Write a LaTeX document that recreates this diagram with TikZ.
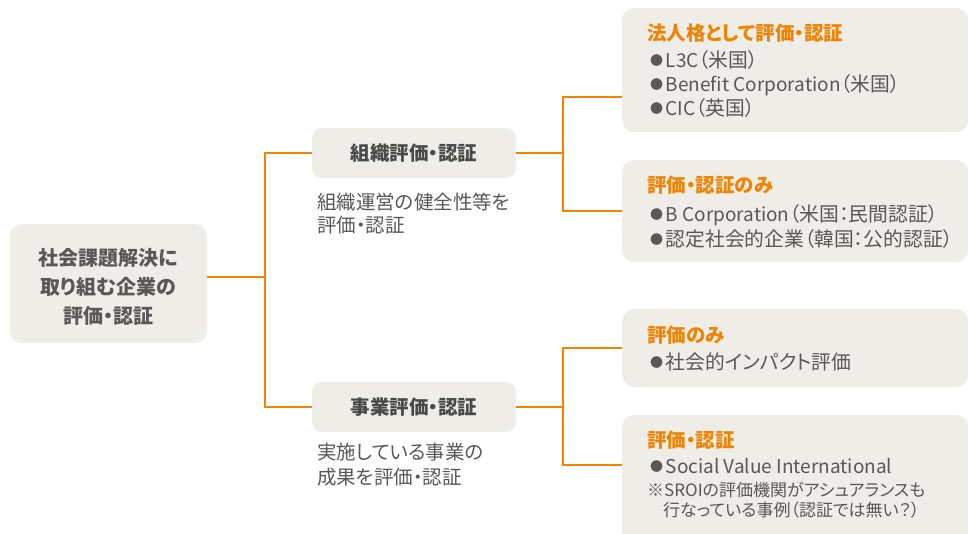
\documentclass[tikz,border=0pt]{standalone}
\usepackage{fontspec}
\setmainfont{Noto Sans CJK JP}[RawFeature=+palt]
\newcommand\lat{\fontsize{19}{19}\selectfont}
\definecolor{org}{HTML}{F08300}
\definecolor{boxbg}{HTML}{EFEDE8}
\definecolor{txt}{HTML}{595757}
\definecolor{txtd}{HTML}{4A4A4A}
\newcommand\bul{\raisebox{2pt}{\fontsize{13}{13}\selectfont ●}\hspace{2.5pt}}
\begin{document}
\begin{tikzpicture}[x=1pt,y=-1pt]
\tikzset{
 bx/.style={fill=boxbg, rounded corners=12pt, inner sep=0pt},
 conn/.style={draw=org, line width=2.2pt},
 tx/.style={inner sep=0pt, anchor=base west, text=txt, font=\fontsize{19.8}{19.8}\selectfont},
 hd/.style={inner sep=0pt, anchor=base west, text=org, font=\bfseries\fontsize{19.5}{19.5}\selectfont},
 desc/.style={inner sep=0pt, anchor=base west, text=txt, font=\fontsize{19.5}{19.5}\selectfont},
 note/.style={inner sep=0pt, anchor=base west, text=txt, font=\fontsize{17}{17}\selectfont},
 midbox/.style={bx, rounded corners=10pt, minimum width=204pt, minimum height=50pt, text=txtd, font=\bfseries\fontsize{19.5}{19.5}\selectfont},
 rbox/.style={bx, minimum width=346pt},
}
\useasboundingbox (0,0) rectangle (976,534);
% boxes
\node[bx, minimum width=197pt, minimum height=119pt] (root) at (108.5,283.5) {};
\node[inner sep=0pt, align=center, text=txt,
      font=\bfseries\fontsize{20}{29}\selectfont] (roottext) at (108.5,287) {社会課題解決に\\取り組む企業の\\評価・認証};
\node[midbox] (mid1) at (414,153) {組織評価・認証};
\node[midbox] (mid2) at (414,407) {事業評価・認証};
\node[rbox, minimum height=124pt] (R1) at (795,70) {};
\node[rbox, minimum height=102pt] (R2) at (795,211) {};
\node[rbox, minimum height=78pt] (R3) at (795,348) {};
\node[rbox, minimum height=145pt] (R4) at (795,487.5) {};
% connectors
\coordinate (j1) at (265,277);
\coordinate (k1) at (563,153);
\coordinate (k2) at (563,407);
\coordinate (r1in) at (622,97);
\coordinate (r4in) at (622,465);
\draw[conn] (root.east |- j1) -- (j1);
\draw[conn] (mid1.west) -| (j1) |- (mid2.west);
\draw[conn] (mid1.east) -- (k1);
\draw[conn] (r1in) -| (k1) |- (R2.west);
\draw[conn] (mid2.east) -- (k2);
\draw[conn] (R3.west) -| (k2) |- (r4in);
% descriptions
\node[desc] (d1a) at (317,209.4) {組織運営の健全性等を};
\node[desc] (d1b) at (317,232.4) {評価・認証};
\node[desc] (d2a) at (317,459.4) {実施している事業の};
\node[desc] (d2b) at (317,484.4) {成果を評価・認証};
% R1
\node[hd] (h1) at (647,40.4) {法人格として評価・認証};
\node[tx] (i11) at (650,67.5) {\bul{\lat L3C}（米国）};
\node[tx] (i12) at (650,92) {\bul{\lat Benefit Corporation}（米国）};
\node[tx] (i13) at (650,116) {\bul{\lat CIC}（英国）};
% R2
\node[hd] (h2) at (647,192.4) {評価・認証のみ};
\node[tx] (i21) at (650,221.6) {\bul{\lat B Corporation}（米国：民間認証）};
\node[tx] (i22) at (650,246.6) {\bul 認定社会的企業（韓国：公的認証）};
% R3
\node[hd] (h3) at (647,342.4) {評価のみ};
\node[tx] (i31) at (650,369.6) {\bul 社会的インパクト評価};
% R4
\node[hd] (h4) at (647,447.4) {評価・認証};
\node[tx] (i41) at (650,473.6) {\bul{\lat Social Value International}};
\node[note] (n1) at (647,496.5) {※{\lat\fontsize{17}{17}\selectfont SROI}の評価機関がアシュアランスも};
\node[note] (n2) at (663,516.5) {行なっている事例（認証では無い？）};
\end{tikzpicture}
\end{document}
